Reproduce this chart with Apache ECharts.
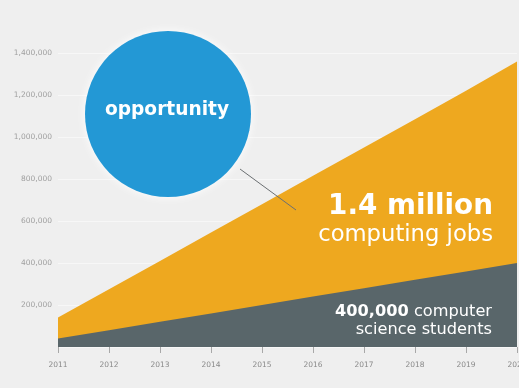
<!DOCTYPE html>
<html>
<head>
<meta charset="utf-8">
<script src="https://cdn.jsdelivr.net/npm/echarts@6/dist/echarts.min.js"></script>
<style>
html,body{margin:0;padding:0;background:#efefef;}
#c{width:519px;height:388px;}
</style>
</head>
<body>
<div id="c"></div>
<script>
const years = ['2011','2012','2013','2014','2015','2016','2017','2018','2019','2020'];
const computingJobs = [140000, 275000, 410000, 545000, 680000, 815000, 950000, 1085000, 1220000, 1360000];
const csStudents = [40000, 80000, 120000, 160000, 200000, 240000, 280000, 320000, 360000, 400000];
const yTicks = [0, 200000, 400000, 600000, 800000, 1000000, 1200000, 1400000];

const FONT = '"DejaVu Sans", sans-serif';
const mctx = document.createElement('canvas').getContext('2d');
function fitSize(parts, targetW) {
  let w = 0;
  parts.forEach(p => { mctx.font = p[1] + ' 100px ' + FONT; w += mctx.measureText(p[0]).width; });
  return 100 * targetW / w;
}
const sOpp = fitSize([['opportunity', 'bold']], 124);
const sMil = fitSize([['1.4 million', 'bold']], 165);
const sJobs = fitSize([['computing jobs', 'normal']], 175);
const sStu = fitSize([['400,000', 'bold'], [' computer', 'normal']], 157);

const chart = echarts.init(document.getElementById('c'), null, {renderer: 'canvas'});
chart.setOption({
  backgroundColor: '#efefef',
  animation: false,
  grid: {left: 58, right: 2, top: 53, bottom: 41, containLabel: false, outerBoundsMode: 'none'},
  xAxis: {
    type: 'category',
    data: years,
    boundaryGap: false,
    offset: 5,
    axisLine: {show: false},
    axisTick: {show: true, length: 6, lineStyle: {color: '#a8a8a8', width: 1}},
    axisLabel: {color: '#8a8a8a', fontSize: 7.5, margin: 9, fontFamily: FONT, alignMaxLabel: 'center', hideOverlap: false},
    splitLine: {show: false}
  },
  yAxis: {
    type: 'value',
    min: yTicks[0],
    max: yTicks[yTicks.length - 1],
    interval: yTicks[1] - yTicks[0],
    axisLine: {show: false},
    axisTick: {show: false},
    axisLabel: {
      color: '#a0a0a0', fontSize: 7.5, margin: 6, fontFamily: FONT,
      showMinLabel: false,
      formatter: v => v === 0 ? '' : v.toLocaleString('en-US')
    },
    splitLine: {show: true, lineStyle: {color: '#f7f7f7', width: 1}}
  },
  series: [
    {
      name: 'computing jobs', type: 'line', data: computingJobs,
      symbol: 'none', lineStyle: {width: 0}, itemStyle: {color: '#eea81f'},
      areaStyle: {color: '#eea81f', opacity: 1}, z: 2
    },
    {
      name: 'computer science students', type: 'line', data: csStudents,
      symbol: 'none', lineStyle: {width: 0}, itemStyle: {color: '#59666a'},
      areaStyle: {color: '#59666a', opacity: 1}, z: 3
    }
  ],
  graphic: [
    {
      type: 'line', z: 10,
      shape: {x1: 240, y1: 169, x2: 296, y2: 210},
      style: {stroke: '#6b6f72', lineWidth: 1}
    },
    {
      type: 'circle', z: 11,
      shape: {cx: 168, cy: 114, r: 83},
      style: {fill: '#2398d5', shadowBlur: 10, shadowColor: 'rgba(255,255,255,0.95)'}
    },
    {
      type: 'text', z: 12,
      style: {x: 167, y: 110, text: 'opportunity', fill: '#ffffff', fontWeight: 'bold', fontSize: sOpp, fontFamily: FONT, align: 'center', verticalAlign: 'middle'}
    },
    {
      type: 'text', z: 12,
      style: {x: 493, y: 207, text: '1.4 million', fill: '#ffffff', fontWeight: 'bold', fontSize: sMil, fontFamily: FONT, align: 'right', verticalAlign: 'middle'}
    },
    {
      type: 'text', z: 12,
      style: {x: 493, y: 235, text: 'computing jobs', fill: '#ffffff', fontSize: sJobs, fontFamily: FONT, align: 'right', verticalAlign: 'middle'}
    },
    {
      type: 'text', z: 12,
      style: {
        x: 492, y: 312,
        text: '{b|400,000}{n| computer}',
        fill: '#ffffff', align: 'right', verticalAlign: 'middle',
        rich: {
          b: {fontWeight: 'bold', fontSize: sStu, fill: '#ffffff', fontFamily: FONT},
          n: {fontSize: sStu, fill: '#ffffff', fontFamily: FONT}
        }
      }
    },
    {
      type: 'text', z: 12,
      style: {x: 492, y: 330, text: 'science students', fill: '#ffffff', fontSize: sStu, fontFamily: FONT, align: 'right', verticalAlign: 'middle'}
    }
  ]
});
</script>
</body>
</html>
